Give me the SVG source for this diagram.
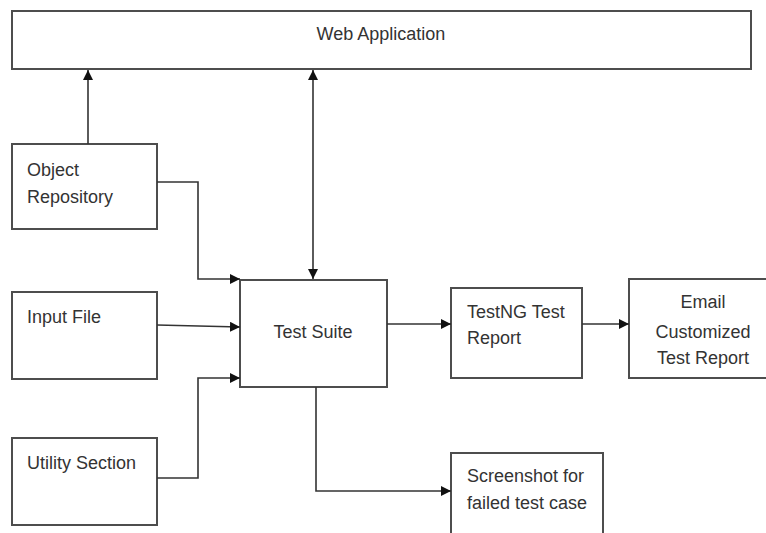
<svg xmlns="http://www.w3.org/2000/svg" width="766" height="533" viewBox="0 0 766 533">
<defs>
<style>
.box{fill:#fff;stroke:#4d4d4d;stroke-width:2}
.t{font-family:"Liberation Sans",Arial,sans-serif;font-size:18px;fill:#333}
.c{fill:none;stroke:#333;stroke-width:1.6}
</style>
<marker id="ah" viewBox="0 0 10 10" refX="10" refY="5" markerWidth="10" markerHeight="10" markerUnits="userSpaceOnUse" orient="auto-start-reverse">
<path d="M0,0 L10,5 L0,10 z" fill="#111"/>
</marker>
</defs>
<rect width="766" height="533" fill="#fff"/>
<g id="web-application"><rect class="box" x="12" y="11" width="739" height="58"/><text class="t" x="381" y="40" text-anchor="middle">Web Application</text></g>
<g id="object-repository"><rect class="box" x="12" y="144" width="145" height="85"/><text class="t" x="27" y="176">Object</text><text class="t" x="27" y="203">Repository</text></g>
<g id="input-file"><rect class="box" x="12" y="292" width="145" height="87"/><text class="t" x="27" y="323">Input File</text></g>
<g id="utility-section"><rect class="box" x="12" y="438" width="145" height="87"/><text class="t" x="27" y="469">Utility Section</text></g>
<g id="test-suite"><rect class="box" x="240" y="280" width="147" height="107"/><text class="t" x="313" y="338" text-anchor="middle">Test Suite</text></g>
<g id="testng-report"><rect class="box" x="451" y="288" width="131" height="90"/><text class="t" x="467" y="318">TestNG Test</text><text class="t" x="467" y="344">Report</text></g>
<g id="email-report"><rect class="box" x="629" y="279" width="150" height="99"/><text class="t" x="703" y="308" text-anchor="middle">Email</text><text class="t" x="703" y="338" text-anchor="middle">Customized</text><text class="t" x="703" y="364" text-anchor="middle">Test Report</text></g>
<g id="screenshot"><rect class="box" x="451" y="453" width="152" height="90"/><text class="t" x="467" y="482">Screenshot for</text><text class="t" x="467" y="509">failed test case</text></g>
<g id="connectors">
<path class="c" d="M88,144 V70" marker-end="url(#ah)"/>
<path class="c" d="M313,70 V279" marker-start="url(#ah)" marker-end="url(#ah)"/>
<path class="c" d="M157,182 H198 V279 H240" marker-end="url(#ah)"/>
<path class="c" d="M157,325 L240,327" marker-end="url(#ah)"/>
<path class="c" d="M157,478 H198 V378 H240" marker-end="url(#ah)"/>
<path class="c" d="M387,324 H451" marker-end="url(#ah)"/>
<path class="c" d="M582,324 H629" marker-end="url(#ah)"/>
<path class="c" d="M316,387 V491 H451" marker-end="url(#ah)"/>
</g>
</svg>
